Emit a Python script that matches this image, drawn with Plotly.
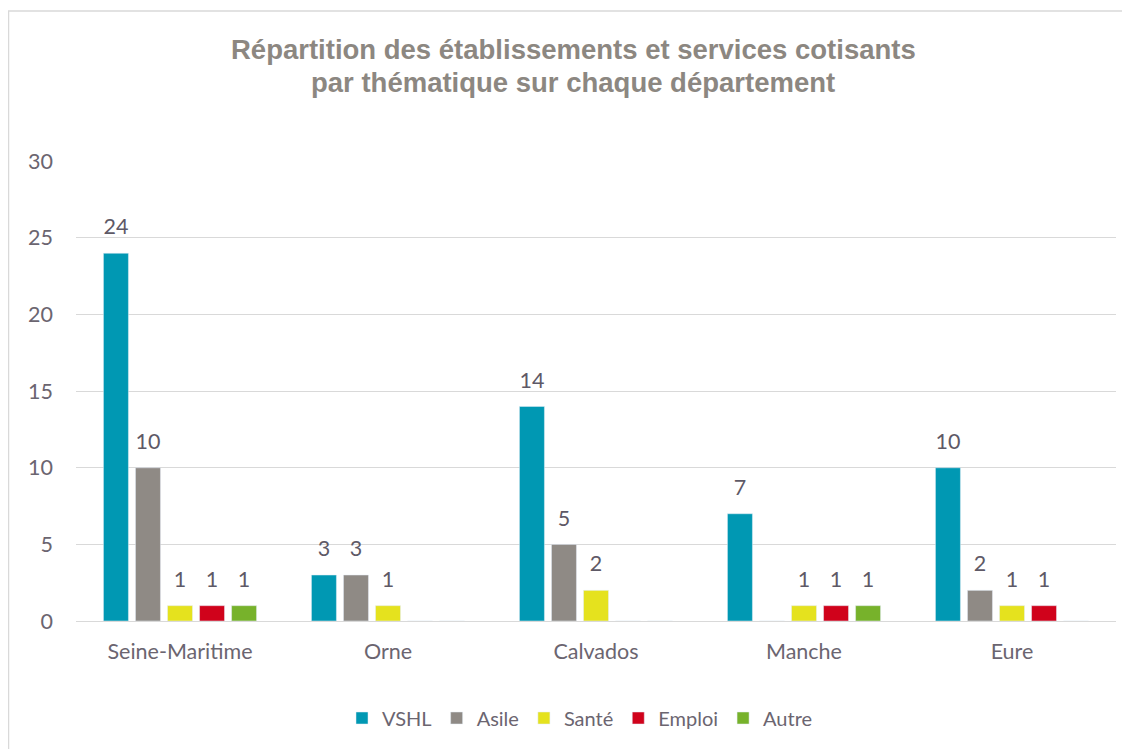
import plotly.graph_objects as go

categories = ["Seine-Maritime", "Orne", "Calvados", "Manche", "Eure"]
series_names = ["VSHL", "Asile", "Santé", "Emploi", "Autre"]
vshl = [24, 3, 14, 7, 10]
asile = [10, 3, 5, 0, 2]
sante = [1, 1, 2, 1, 1]
emploi = [1, 0, 0, 1, 1]
autre = [1, 0, 0, 1, 0]
colors = ["#0098B3", "#8F8A85", "#E5E21E", "#D0021B", "#77B22B"]
y_ticks = [0, 5, 10, 15, 20, 25, 30]
title_lines = ["Répartition des établissements et services cotisants",
               "par thématique sur chaque département"]

# page is offset by the 8px body margin
W, H = 1130, 749
L, R, T, B = 68, 22, 153, 136
pw, ph = W - L - R, H - T - B
TXT = "#6B6570"
FONT = "Lato"
FS = 21.5


def px_x(p):
    return (p - L) / pw


def px_y(p):
    return (H - B - p) / ph


fig = go.Figure()
all_vals = [vshl, asile, sante, emploi, autre]
for i, (name, vals, col) in enumerate(zip(series_names, all_vals, colors)):
    fig.add_trace(go.Bar(
        x=categories, y=vals, name=name, marker_color=col, offsetgroup=str(i),
        hoverinfo="x+y+name",
    ))
for i, (name, vals) in enumerate(zip(series_names, all_vals)):
    fig.add_trace(go.Scatter(
        x=categories, y=[v if v else None for v in vals], mode="markers+text",
        text=[str(v) if v else "" for v in vals], textposition="top center",
        marker=dict(size=20, opacity=0, color="white"), offsetgroup=str(i),
        textfont=dict(size=FS, color="#5E5966", family=FONT),
        cliponaxis=False, showlegend=False, hoverinfo="skip",
    ))

annotations = [
    dict(text="<b>" + title_lines[0] + "</b>", xref="paper", yref="paper", x=px_x(565), y=px_y(42),
         xanchor="center", yanchor="middle", showarrow=False,
         font=dict(family="Liberation Sans", size=27.5, color="#8C8781")),
    dict(text="<b>" + title_lines[1] + "</b>", xref="paper", yref="paper", x=px_x(565), y=px_y(74),
         xanchor="center", yanchor="middle", showarrow=False,
         font=dict(family="Liberation Sans", size=27.5, color="#8C8781")),
]

fig.update_layout(
    width=W, height=H,
    margin=dict(l=L, r=R, t=T, b=B, autoexpand=False),
    paper_bgcolor="white", plot_bgcolor="white",
    barmode="group", bargap=0.23, bargroupgap=0.22,
    scattermode="group", scattergap=0.23,
    font=dict(family=FONT, size=FS, color=TXT),
    xaxis=dict(showgrid=False, showline=False, ticks="", tickangle=0, ticklabelstandoff=15,
               tickfont=dict(size=FS, color=TXT)),
    yaxis=dict(range=[0, 30.02], tickvals=y_ticks, showgrid=True, gridcolor="#D9D9D9", gridwidth=1,
               zeroline=True, zerolinecolor="#D9D9D9", zerolinewidth=1, showline=False,
               ticks="", ticklabelstandoff=22, tickfont=dict(size=FS, color=TXT)),
    legend=dict(orientation="h", x=px_x(572), xref="paper", xanchor="center",
                y=px_y(710), yanchor="middle", font=dict(size=20, color=TXT),
                itemwidth=30, tracegroupgap=0),
    annotations=annotations,
    shapes=[dict(type="rect", xref="paper", yref="paper",
                 x0=px_x(0.5), x1=px_x(W + 20), y0=px_y(H + 20), y1=px_y(3),
                 line=dict(color="#D9D9D9", width=1.5), layer="below")],
)

fig.write_html("out.html")
